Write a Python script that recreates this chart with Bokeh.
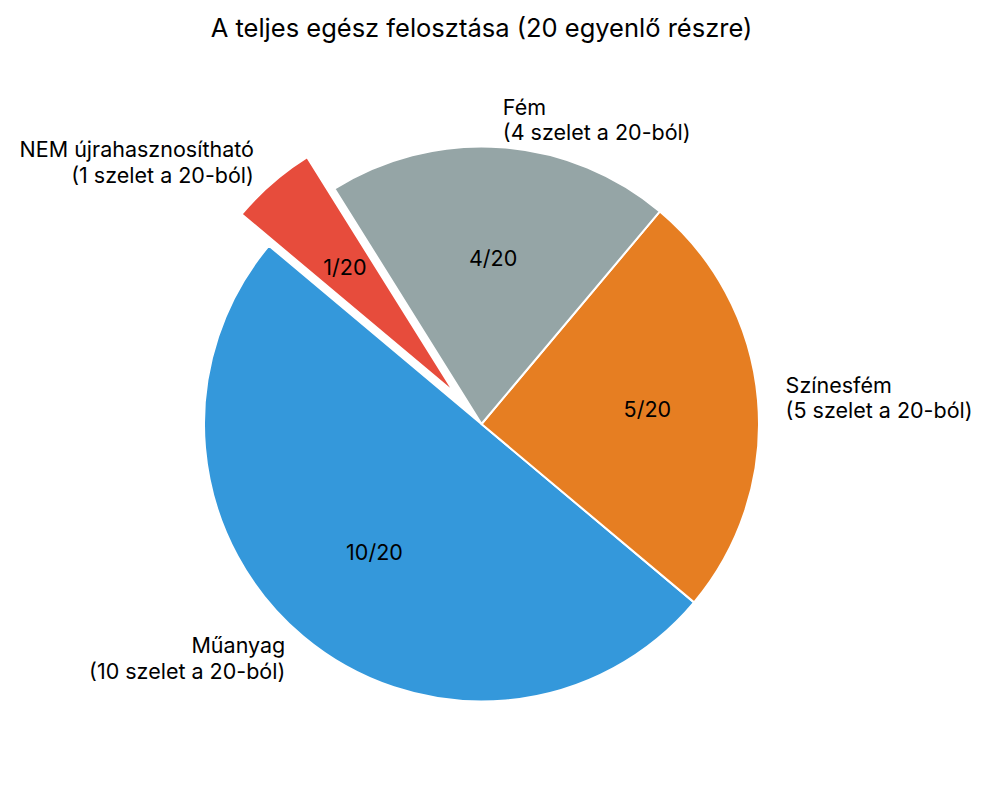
import math
from bokeh.plotting import figure
from bokeh.models import Range1d, ColumnDataSource
from bokeh.core.properties import value
from bokeh.embed import file_html
from bokeh.resources import INLINE

title = "A teljes egész felosztása (20 egyenlő részre)"
categories = ["Műanyag", "Színesfém", "Fém", "NEM újrahasznosítható"]
slices = [10, 5, 4, 1]
total = 20
colors = ["#3498db", "#e67e22", "#95a5a6", "#e74c3c"]
explode = [0.0, 0.0, 0.0, 0.15]
start_angle_deg = 140

FONT = "Inter"
W, H = 978, 777
PX = 277.5  # pixels per unit radius
cx_px, cy_px = 481, 423.5  # centre in plot pixels

p = figure(width=W, height=H, output_backend="svg", toolbar_location=None,
           x_range=Range1d(-cx_px / PX, (W - cx_px) / PX),
           y_range=Range1d(-(H - cy_px) / PX, cy_px / PX),
           min_border=0)
p.axis.visible = False
p.grid.visible = False
p.outline_line_color = None
p.background_fill_color = "white"

starts, ends, xs, ys = [], [], [], []
lab_x, lab_y, lab_t, lab_align = [], [], [], []
pct_x, pct_y, pct_t = [], [], []
a = math.radians(start_angle_deg)
for cat, n, ex in zip(categories, slices, explode):
    span = 2 * math.pi * n / total
    mid = a + span / 2
    ox, oy = ex * math.cos(mid), ex * math.sin(mid)
    starts.append(a)
    ends.append(a + span)
    xs.append(ox)
    ys.append(oy)
    lx = ox + 1.1 * math.cos(mid)
    ly = oy + 1.1 * math.sin(mid)
    lab_x.append(lx)
    lab_y.append(ly)
    lab_t.append(f"{cat}\n({n} szelet a {total}-ból)")
    lab_align.append("left" if lx > 0 else "right")
    pct_x.append(ox + 0.6 * math.cos(mid))
    pct_y.append(oy + 0.6 * math.sin(mid))
    pct_t.append(f"{n}/{total}")
    a += span

src = ColumnDataSource(dict(x=xs, y=ys, s=starts, e=ends, c=colors))
p.wedge(x="x", y="y", radius=1.0, start_angle="s", end_angle="e",
        direction="anticlock", fill_color="c", line_color="white", line_width=2,
        source=src)

lsrc = ColumnDataSource(dict(x=lab_x, y=lab_y, t=lab_t, al=lab_align))
p.text(x="x", y="y", text="t", text_align="al", text_baseline="middle",
       text_font=value(FONT), text_font_size="21.5px", text_color="black",
       text_line_height=0.98, source=lsrc)

psrc = ColumnDataSource(dict(x=pct_x, y=pct_y, t=pct_t))
p.text(x="x", y="y", text="t", text_align="center", text_baseline="middle",
       text_font=value(FONT), text_font_size="21.5px", text_color="black",
       source=psrc)

p.text(x=[0.0], y=[(cy_px - 27) / PX], text=[title],
       text_align="center", text_baseline="middle",
       text_font=value(FONT), text_font_size="25.5px", text_color="black")

open("out.html", "w").write(file_html(p, INLINE))
